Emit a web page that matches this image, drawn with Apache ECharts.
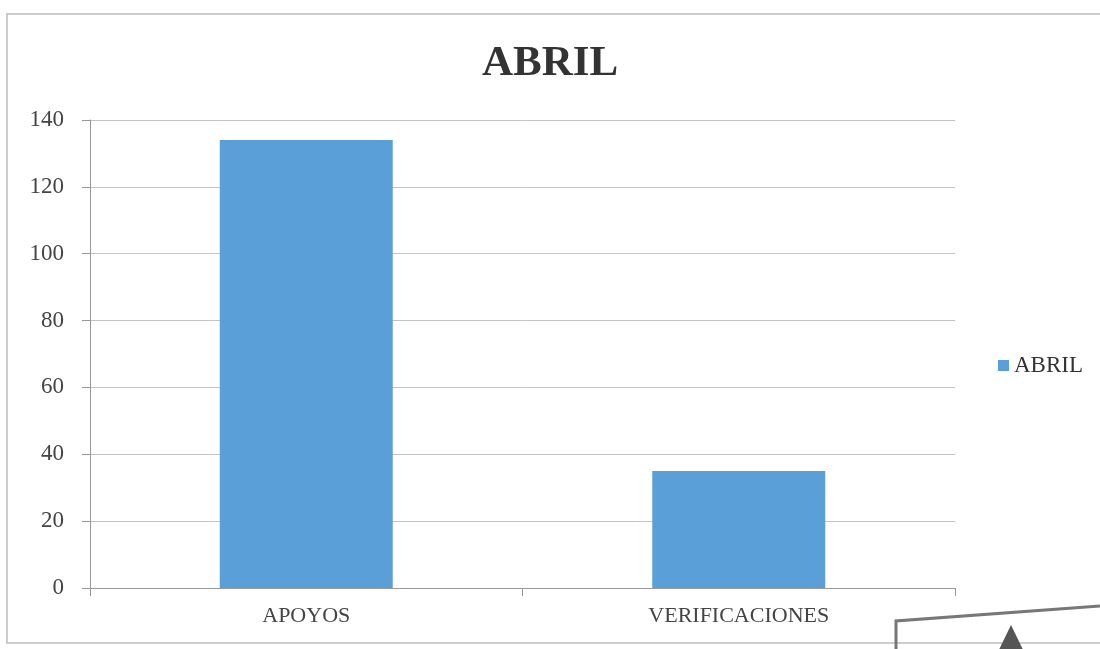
<!DOCTYPE html>
<html><head><meta charset="utf-8">
<script src="https://cdn.jsdelivr.net/npm/echarts@6/dist/echarts.min.js"></script>
<style>html,body{margin:0;padding:0;background:#fff}#c{width:1100px;height:649px}</style>
</head><body><div id="c"></div>
<script>
const title = 'ABRIL';
const categories = ['APOYOS', 'VERIFICACIONES'];
const seriesName = 'ABRIL';
const values = [134, 35];
const yTicks = [0, 20, 40, 60, 80, 100, 120, 140];

const font = '"Liberation Serif", "DejaVu Serif", serif';
const chart = echarts.init(document.getElementById('c'));
chart.setOption({
  backgroundColor: '#fff',
  animation: false,
  title: {
    text: title, left: 'center', top: 37,
    textStyle: {fontFamily: font, fontSize: 43, fontWeight: 'bold', color: '#333'}
  },
  legend: {
    data: [seriesName], orient: 'vertical', left: 993, top: 349, itemWidth: 11, itemHeight: 11,
    itemGap: 0, icon: 'rect',
    textStyle: {fontFamily: font, fontSize: 23, color: '#333'}
  },
  graphic: [{
    type: 'rect', shape: {x: 7, y: 14, width: 1200, height: 629},
    style: {fill: 'none', stroke: '#bdbdbd', lineWidth: 1.5}, silent: true
  }, {
    type: 'polyline', shape: {points: [[896, 660], [896, 621], [1100, 606]]},
    style: {fill: 'none', stroke: '#777', lineWidth: 3}, silent: true
  }, {
    type: 'polygon', shape: {points: [[1011, 625], [994, 660], [1028, 660]]},
    style: {fill: '#555'}, silent: true
  }],
  grid: {left: 90, right: 145, top: 120, bottom: 61},
  xAxis: {
    type: 'category', data: categories,
    axisLine: {lineStyle: {color: '#999'}},
    axisTick: {show: true, length: 8, lineStyle: {color: '#999'}},
    axisLabel: {fontFamily: font, fontSize: 22, color: '#444', margin: 17}
  },
  yAxis: {
    type: 'value', min: yTicks[0], max: yTicks[yTicks.length - 1], interval: 20,
    axisLine: {show: true, lineStyle: {color: '#999'}},
    axisTick: {show: true, length: 8, lineStyle: {color: '#999'}},
    axisLabel: {fontFamily: font, fontSize: 23, color: '#444', margin: 26},
    splitLine: {lineStyle: {color: '#c4c4c4'}}
  },
  series: [{
    name: seriesName, type: 'bar', data: values, barWidth: '40%',
    itemStyle: {color: '#5b9fd9'}
  }]
});
</script></body></html>
